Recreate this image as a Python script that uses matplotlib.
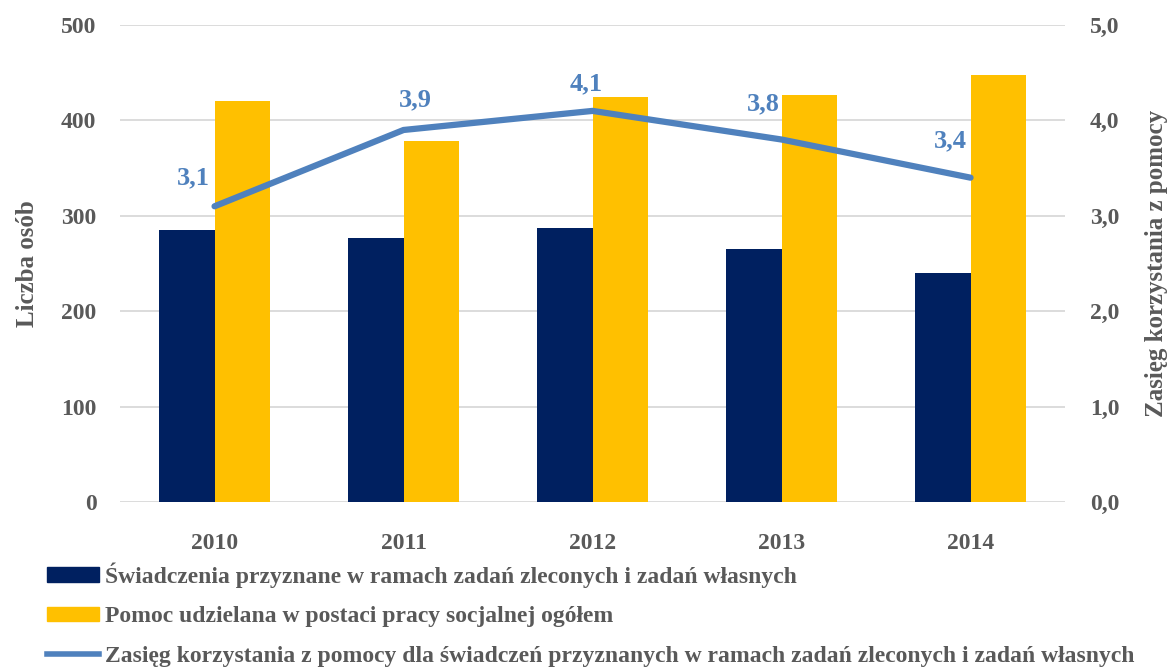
import matplotlib
matplotlib.use("Agg")
import matplotlib.pyplot as plt
import numpy as np
from matplotlib.ticker import FuncFormatter
from matplotlib.patches import Patch
from matplotlib.lines import Line2D

years = ["2010", "2011", "2012", "2013", "2014"]
benefits = [285, 277, 287, 265, 240]
social_work = [420, 378, 425, 427, 448]
reach = [3.1, 3.9, 4.1, 3.8, 3.4]

legend_labels = [
    "Świadczenia przyznane w ramach zadań zleconych i zadań własnych",
    "Pomoc udzielana w postaci pracy socjalnej ogółem",
    "Zasięg korzystania z pomocy dla świadczeń przyznanych w ramach zadań zleconych i zadań własnych",
]

navy = "#002060"
gold = "#FFC000"
blue = "#4F81BD"
gray = "#595959"
grid_col = "#D9D9D9"

plt.rcParams["font.family"] = ["Liberation Serif", "DejaVu Serif"]
plt.rcParams["font.weight"] = "bold"
plt.rcParams["axes.labelweight"] = "bold"

fig = plt.figure(figsize=(11.7, 6.68), dpi=100)
ax = fig.add_axes([0.1026, 0.2485, 0.8077, 0.714])

x = np.arange(len(years))
w = 0.296
ax.bar(x - w / 2, benefits, w, color=navy, zorder=2)
ax.bar(x + w / 2, social_work, w, color=gold, zorder=2)
ax.set_xlim(-0.5, len(years) - 0.5)
ax.set_ylim(0, 500)
ax.set_yticks(range(0, 501, 100))
ax.set_xticks(x)
ax.set_xticklabels(years)
ax.grid(axis="y", color=grid_col, linewidth=1.3, zorder=0)
ax.set_axisbelow(True)
for s in ax.spines.values():
    s.set_visible(False)
ax.tick_params(length=0, labelsize=17, labelcolor=gray)
ax.tick_params(axis="y", pad=17)
ax.tick_params(axis="x", pad=22)
ax.set_ylabel("Liczba osób", fontsize=18, color=gray, labelpad=16)

ax2 = ax.twinx()
ax2.plot(x, reach, color=blue, linewidth=4.5, solid_capstyle="round", zorder=3)
ax2.set_ylim(0, 5)
ax2.set_yticks(range(0, 6))
ax2.yaxis.set_major_formatter(FuncFormatter(lambda v, p: f"{v:.1f}".replace(".", ",")))
for s in ax2.spines.values():
    s.set_visible(False)
ax2.tick_params(length=0, labelsize=17, labelcolor=gray, pad=18)
ax2.set_ylabel("Zasięg korzystania z pomocy", fontsize=18, color=gray, labelpad=18)

# label offsets in pixels (dx, dy)
label_offsets = [(-21, 28), (12, 30), (-6, 27), (-18, 36), (-20, 37)]
for xi, val, (dx, dy) in zip(x, reach, label_offsets):
    ax2.annotate(f"{val:.1f}".replace(".", ","), (xi, val), xytext=(dx * 0.72, dy * 0.72),
                 textcoords="offset points", ha="center", va="center",
                 fontsize=19, color=blue, fontweight="bold")

handles = [Patch(color=navy), Patch(color=gold), Line2D([], [], color=blue, linewidth=4)]
leg = fig.legend(handles, legend_labels, loc="upper left", bbox_to_anchor=(0.04, 0.158),
                 frameon=False, fontsize=17, handlelength=2.2, handleheight=0.55,
                 handletextpad=0.25, labelspacing=0.78, borderaxespad=0, borderpad=0)
for t in leg.get_texts():
    t.set_color(gray)

fig.savefig("out.png", dpi=100)
